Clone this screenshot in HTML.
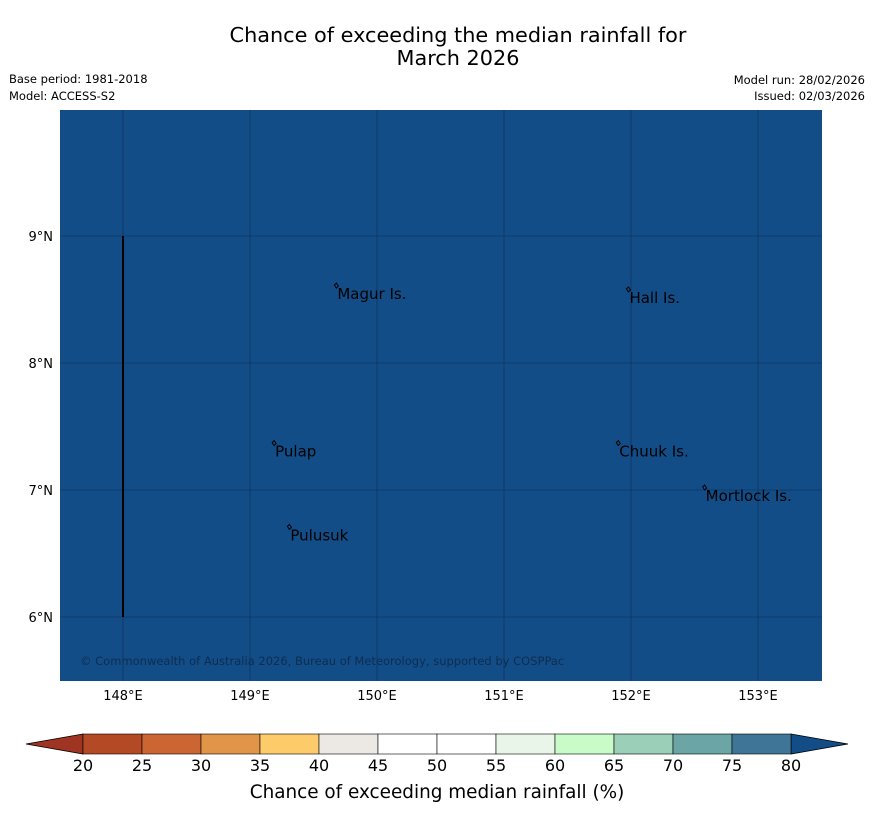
<!DOCTYPE html>
<html><head><meta charset="utf-8"><style>
body{margin:0;background:#fff;font-family:"DejaVu Sans","Liberation Sans",sans-serif}
</style></head><body>
<svg id="chart" width="873" height="816" xmlns="http://www.w3.org/2000/svg" font-family="DejaVu Sans, Liberation Sans, sans-serif">
<text x="458" y="42" font-size="20.8" text-anchor="middle">Chance of exceeding the median rainfall for</text>
<text x="458" y="65" font-size="20.8" text-anchor="middle">March 2026</text>
<text x="9" y="83" font-size="11.5">Base period: 1981-2018</text>
<text x="9" y="100" font-size="11.5">Model: ACCESS-S2</text>
<text x="865" y="84" font-size="11.5" text-anchor="end">Model run: 28/02/2026</text>
<text x="865" y="100" font-size="11.5" text-anchor="end">Issued: 02/03/2026</text>
<rect x="60" y="110" width="762" height="571" fill="#134d87"/>
<g id="grid"></g>
<g id="places"></g>
<text x="80" y="665" font-size="11.5" fill="#0d2d52">© Commonwealth of Australia 2026, Bureau of Meteorology, supported by COSPPac</text>
<g id="cbar"></g>
<text x="437" y="798" font-size="18.4" text-anchor="middle">Chance of exceeding median rainfall (%)</text>
</svg>
<script>
const lonTicks=[148,149,150,151,152,153];
const latTicks=[6,7,8,9];
const placeNames=["Magur Is.","Hall Is.","Pulap","Pulusuk","Chuuk Is.","Mortlock Is."];
const placeLon=[149.68,151.98,149.19,149.31,151.90,152.58];
const placeLat=[8.59,8.56,7.35,6.69,7.35,7.00];
const cbarLevels=[20,25,30,35,40,45,50,55,60,65,70,75,80];
const cbarColors=["#b34a25","#cb6532","#e09548","#fdcb6a","#ece8e4","#ffffff","#ffffff","#eaf5ea","#c8fbc8","#9ccfb8","#6ba5a6","#3f7697"];
const lowColor="#9e3421", highColor="#134d87";
const NS="http://www.w3.org/2000/svg";
const X=lon=>123+(lon-148)*127, Y=lat=>236-(lat-9)*127;
const cx=v=>83+(v-20)*(708/60);
function mk(t,a,p){const e=document.createElementNS(NS,t);for(const k in a)e.setAttribute(k,a[k]);p.appendChild(e);return e;}
const g=document.getElementById('grid');
lonTicks.forEach(l=>{
 const ln=mk('line',{x1:X(l),x2:X(l),y1:110,y2:681,stroke:'#0f3560','stroke-width':0.8},g);
 
 
 const t=mk('text',{x:X(l),y:700,'font-size':13,'text-anchor':'middle'},g);t.textContent=l+'°E';
 
 
});
latTicks.forEach(l=>{
 const ln=mk('line',{x1:60,x2:822,y1:Y(l),y2:Y(l),stroke:'#0f3560','stroke-width':0.8},g);
 
 
 const t=mk('text',{x:53,y:Y(l)+5,'font-size':13,'text-anchor':'end'},g);t.textContent=l+'°N';
 
 
});
const vl=mk('line',{x1:X(148),x2:X(148),y1:Y(9),y2:Y(6),stroke:'#000','stroke-width':2},g);


const p=document.getElementById('places');
placeNames.forEach((n,i)=>{
 const x=X(placeLon[i]),y=Y(placeLat[i]);
 const m=mk('path',{d:`M${x-2},${y-3} l2,-2 l2,3 l-2,2 z`,fill:'none',stroke:'#000','stroke-width':1},p);
 
 
 const t=mk('text',{x:x+1,y:y+11,'font-size':15},p);t.textContent=n;
 
 
});
const c=document.getElementById('cbar');
const lt=mk('polygon',{points:`${cx(20)},734 26,744 ${cx(20)},754`,fill:lowColor,stroke:'#000','stroke-width':0.8},c);


const rt=mk('polygon',{points:`${cx(80)},734 848,744 ${cx(80)},754`,fill:highColor,stroke:'#000','stroke-width':0.8},c);


cbarColors.forEach((col,i)=>{
 const r=mk('rect',{x:cx(cbarLevels[i]),y:734,width:cx(cbarLevels[i+1])-cx(cbarLevels[i]),height:20,fill:col,stroke:'#000','stroke-width':0.6},c);
 
 
});
cbarLevels.forEach(v=>{
 const t=mk('text',{x:cx(v),y:771,'font-size':16,'text-anchor':'middle'},c);t.textContent=v;
 
 
});
</script>
</body></html>
